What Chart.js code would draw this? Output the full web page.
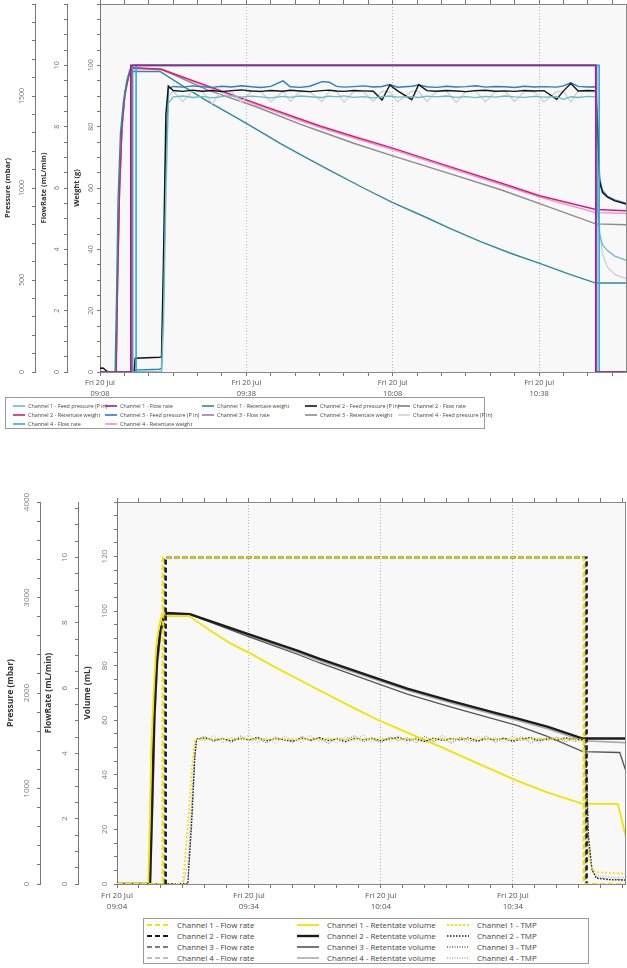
<!DOCTYPE html>
<html>
<head>
<meta charset="utf-8">
<script src="https://cdn.jsdelivr.net/npm/chart.js@4.4.1/dist/chart.umd.min.js"></script>
<style>
  body { margin: 0; background: #fff; width: 627px; height: 968px; overflow: hidden; position: relative; font-family: 'Open Sans', sans-serif; }
  canvas { position: absolute; left: 0; display: block; }
  #c1 { top: 0; }
  #c2 { top: 470px; }
  .legend { position: absolute; box-sizing: border-box; border: 1px solid #9a9a9a; background: #fff; display: grid; color: #444; white-space: nowrap; }
  .legend div { display: flex; align-items: center; }
  .legend svg { flex: none; }
  #leg1 { left: 5px; top: 397px; width: 480px; height: 32px; padding: 3px 0 0 7px; font-size: 5.4px; grid-auto-rows: 9px; }
  #leg1 svg { margin-right: 3px; }
  #leg2 { left: 143px; top: 918px; width: 446px; height: 46px; padding: 0.5px 0 0 3px; font-size: 7.9px; grid-auto-rows: 11px; }
  #leg2 svg { margin-right: 8px; }
</style>
</head>
<body>
<canvas id="c1" width="627" height="398"></canvas>
<div id="leg1" class="legend"></div>
<canvas id="c2" width="627" height="440"></canvas>
<div id="leg2" class="legend"></div>
<script>
// time values are minutes after 09:00 on Fri 20 Jul
const dateLabel = 'Fri 20 Jul';

// ---- top chart: weight run ----
const feedTime = [8, 8.6, 9.4, 10, 15.0, 15.2, 20.2, 20.6, 21.0, 21.5, 22.0, 23, 25, 27, 29, 31, 33, 35, 37, 39, 41, 43,
  45.5, 47, 49, 51, 53.5, 55, 56.5, 58, 60, 62, 64, 65.8, 67.4, 69, 71.9, 73.3, 75, 77, 79, 81, 83, 85, 87, 89, 91, 93, 95, 97, 99,
  101.6, 103, 104.5, 106, 108, 109.6, 110.0, 110.4, 111, 112, 113.5, 116];
const feedP1 = [0, 0, 0, 0, 0, 0, 0, 0, 300, 1000, 1460,
  1495, 1500, 1492, 1498, 1490, 1497, 1502, 1494, 1499, 1495, 1490,
  1498, 1493, 1500, 1496, 1492, 1499, 1495, 1501, 1493, 1497, 1490,
  1496, 1500, 1494, 1497, 1492, 1499, 1495, 1500, 1493, 1497, 1491,
  1498, 1494, 1500, 1495, 1492, 1498, 1494, 1497, 1482, 1496, 1492, 1498,
  1495, 900, 750, 690, 660, 630, 605];
const feedP2 = [20, 22, 5, 0, 0, 75, 80, 82, 600, 1400, 1555,
  1530, 1525, 1532, 1526, 1530, 1524, 1529, 1533, 1527, 1525, 1530,
  1526, 1531, 1527, 1524, 1529, 1532, 1527, 1525, 1530, 1528, 1526,
  1478, 1560, 1528, 1480, 1562, 1529, 1526, 1530, 1527, 1524, 1529,
  1531, 1526, 1528, 1525, 1530, 1527, 1529, 1482, 1528, 1568, 1527, 1530,
  1528, 1300, 1030, 975, 950, 930, 912];
const feedP3 = [0, 0, 0, 0, 0, 10, 15, 20, 400, 1200, 1540,
  1552, 1548, 1555, 1550, 1547, 1553, 1549, 1556, 1550, 1546, 1552,
  1582, 1550, 1547, 1553, 1578, 1575, 1552, 1548, 1551, 1555, 1549,
  1552, 1562, 1548, 1553, 1560, 1550, 1547, 1553, 1549, 1551, 1556,
  1548, 1552, 1550, 1546, 1553, 1549, 1551, 1548, 1555, 1572, 1552, 1549,
  1550, 1350, 1050, 985, 955, 935, 915];
const feedP4 = [0, 0, 0, 0, 0, 0, 0, 0, 200, 900, 1500,
  1525, 1470, 1528, 1522, 1460, 1526, 1524, 1465, 1527, 1523, 1468,
  1526, 1470, 1525, 1522, 1470, 1527, 1524, 1466, 1526, 1523, 1470,
  1525, 1522, 1468, 1526, 1524, 1470, 1525, 1527, 1465, 1524, 1526,
  1468, 1524, 1526, 1470, 1525, 1523, 1468, 1525, 1524, 1470, 1526, 1524,
  1520, 1000, 760, 640, 570, 530, 505];

const flowSteps = [0, 0, 10, 10, 0, 0];
const flowT1 = [8, 14.3, 14.3, 109.6, 109.6, 116];
const flowT2 = [8, 14.5, 14.5, 109.7, 109.7, 116];
const flowT3 = [8, 14.7, 14.7, 109.8, 109.8, 116];
const flowT4 = [8, 15.4, 15.4, 110.3, 110.3, 116];

const weightT1 = [8, 11.1, 11.4, 11.7, 12.2, 12.8, 13.5, 14.1, 14.8, 20.3, 25, 30, 38.1, 45, 49, 55, 62, 68, 75, 79.7, 86, 92, 98.1, 104, 109.6, 116];
const weightV1 = [0, 0, 25, 56, 78, 88, 95, 98.5, 98, 98, 93.2, 88.3, 81, 74.5, 71, 65.8, 60, 55.2, 50.3, 46.8, 42.5, 38.8, 35.4, 32, 29, 29];
const weightT = [8, 11.3, 11.6, 12, 12.5, 13.1, 13.8, 14.5, 20.6, 30, 40, 49, 53.1, 60, 68, 80, 90, 98.1, 109.6, 116];
const weightV2 = [0, 0, 30, 60, 80, 91, 96, 99.3, 98.7, 93.3, 87.6, 82.5, 80.2, 76.8, 73, 66.8, 61.7, 57.5, 53, 52.6];
const weightV3 = [0, 0, 29, 59, 80, 90, 96, 99, 98.7, 92, 86.5, 80.8, 78.5, 74.6, 70.5, 64.5, 59.5, 54.9, 48.3, 48];
const weightV4 = [0, 0, 28, 58, 79, 90, 96, 99, 98.5, 93, 87.2, 82, 79.8, 76.3, 72.5, 66.3, 61.2, 57, 52, 51.7];

// ---- bottom chart: volume run ----
const bFlowT1 = [4, 14.4, 14.4, 110.1, 110.1, 119.9];
const bFlowT2 = [4, 15.1, 15.1, 110.8, 110.8, 119.9];
const bFlowT3 = [4, 14.9, 14.9, 110.6, 110.6, 119.9];
const bFlowT4 = [4, 14.7, 14.7, 110.4, 110.4, 119.9];

const volT1 = [4, 11.1, 11.5, 11.8, 12.4, 12.9, 13.5, 14.1, 14.5, 15.0, 20.4, 25, 30, 34.2, 40, 45, 50, 57, 63.1, 70, 78, 86, 94.9, 102, 109.9, 117.9, 119.9];
const volV1 = [0, 0, 25, 50, 72, 87, 94, 98, 99.5, 98.2, 98.2, 93.1, 88, 84.6, 79.4, 75.2, 71, 65.2, 60.3, 55.5, 50, 44.2, 37.9, 33.5, 29.4, 29.4, 15.8];
const volT2 = [4, 11.5, 12.0, 12.5, 13.1, 13.8, 14.6, 15.3, 20.6, 34.2, 45, 50.1, 63.1, 70, 80, 90, 94.9, 102, 109.9, 119.9];
const volV2 = [0, 0, 30, 62, 82, 92, 97.5, 99.3, 98.9, 91.4, 85.5, 82.5, 75.4, 71.6, 67, 62.7, 60.7, 57.6, 53.3, 53.3];
const volT3 = [4, 11.4, 11.9, 12.4, 13.0, 13.7, 14.5, 15.2, 20.6, 34.2, 45, 50.1, 63.1, 70, 80, 90, 94.9, 102, 109.9, 118.3, 119.9];
const volV3 = [0, 0, 30, 62, 82, 92, 97.5, 99.2, 98.8, 90.5, 84.2, 81, 73.5, 69.6, 64.8, 60.3, 58.1, 54, 48.5, 48.2, 40.4];
const volT4 = [4, 11.6, 12.1, 12.6, 13.2, 13.9, 14.7, 15.4, 20.6, 34.2, 45, 50.1, 63.1, 70, 80, 90, 94.9, 102, 109.9, 119.9];
const volV4 = [0, 0, 28, 60, 80, 91, 97, 99, 98.7, 90.8, 84.8, 81.8, 74.8, 71, 66.3, 62, 60, 56.8, 52.5, 51.8];

const tmpTime = [4, 19.0, 20.1, 21.0, 21.7, 22.1,
  24, 26, 28, 30, 32, 34, 36, 38, 40, 42, 44, 46, 48, 50, 52, 54, 56, 58, 60, 62,
  64, 66, 68, 70, 72, 74, 76, 78, 80, 82, 84, 86, 88, 90, 92, 94, 96, 98, 100, 102, 104, 106, 108,
  110.1, 110.6, 111.2, 112, 113, 116, 119.9];
const tmp1 = [0, 0, 600, 1200, 1516, 1512,
  1518, 1514, 1517, 1515, 1519, 1513, 1516, 1518, 1514, 1517,
  1515, 1516, 1519, 1514, 1516, 1518, 1513, 1517, 1515, 1516,
  1518, 1514, 1517, 1516, 1515, 1518, 1513, 1516, 1517, 1515,
  1519, 1514, 1516, 1518, 1515, 1517, 1514, 1516, 1518, 1515,
  1517, 1514, 1516,
  1512, 700, 300, 160, 125, 115, 110];
const tmp2 = [0, 0, 0, 700, 1350, 1516,
  1530, 1505, 1522, 1498, 1526, 1510, 1535, 1500, 1520, 1512,
  1495, 1528, 1508, 1532, 1502, 1519, 1490, 1525, 1511, 1527,
  1499, 1521, 1534, 1506, 1517, 1492, 1528, 1503, 1523, 1510,
  1531, 1497, 1520, 1509, 1526, 1494, 1518, 1533, 1501, 1522,
  1507, 1529, 1512,
  1515, 1400, 500, 150, 60, 45, 40];
const tmp3 = [0, 0, 0, 600, 1300, 1510,
  1545, 1490, 1530, 1480, 1550, 1500, 1525, 1475, 1540, 1505,
  1485, 1548, 1495, 1535, 1470, 1528, 1510, 1552, 1488, 1520,
  1478, 1542, 1502, 1533, 1482, 1546, 1497, 1526, 1473, 1538,
  1508, 1490, 1549, 1483, 1530, 1499, 1544, 1476, 1523, 1505,
  1540, 1487, 1530,
  1500, 1300, 450, 140, 70, 50, 45];
const tmp4 = [0, 0, 200, 900, 1450, 1520,
  1500, 1552, 1478, 1535, 1505, 1560, 1483, 1527, 1470, 1548,
  1510, 1485, 1555, 1492, 1530, 1475, 1545, 1503, 1565, 1480,
  1532, 1496, 1550, 1472, 1540, 1508, 1486, 1558, 1490, 1525,
  1478, 1547, 1505, 1535, 1482, 1553, 1497, 1530, 1471, 1544,
  1502, 1537, 1488,
  1505, 900, 350, 150, 90, 70, 65];

function pts(t, v) { return t.map((x, i) => ({ x: x, y: v[i] })); }
function hhmm(v) {
  const h = 9 + Math.floor(v / 60), m = Math.round(v % 60);
  return String(h).padStart(2, '0') + ':' + String(m).padStart(2, '0');
}

const topSeries = [
  { label: 'Channel 1 - Feed pressure (P in)', t: feedTime, v: feedP1, axis: 'yp', color: '#62c0c6', w: 1.3, order: 2 },
  { label: 'Channel 1 - Flow rate', t: flowT1, v: flowSteps, axis: 'yf', color: '#8e2a8e', w: 1.6, order: 1 },
  { label: 'Channel 1 - Retentate weight', t: weightT1, v: weightV1, axis: 'yw', color: '#2c8b9b', w: 1.4, order: 3 },
  { label: 'Channel 2 - Feed pressure (P in)', t: feedTime, v: feedP2, axis: 'yp', color: '#141414', w: 1.4, order: 2 },
  { label: 'Channel 2 - Flow rate', t: flowT2, v: flowSteps, axis: 'yf', color: '#808080', w: 1.3, order: 1 },
  { label: 'Channel 2 - Retentate weight', t: weightT, v: weightV2, axis: 'yw', color: '#d81b7e', w: 1.5, order: 3 },
  { label: 'Channel 3 - Feed pressure (P in)', t: feedTime, v: feedP3, axis: 'yp', color: '#2e7ac4', w: 1.4, order: 2 },
  { label: 'Channel 3 - Flow rate', t: flowT3, v: flowSteps, axis: 'yf', color: '#8a7cc4', w: 1.5, order: 1 },
  { label: 'Channel 3 - Retentate weight', t: weightT, v: weightV3, axis: 'yw', color: '#8c8c8c', w: 1.4, order: 3 },
  { label: 'Channel 4 - Feed pressure (P in)', t: feedTime, v: feedP4, axis: 'yp', color: '#d0d0d0', w: 1.3, order: 2 },
  { label: 'Channel 4 - Flow rate', t: flowT4, v: flowSteps, axis: 'yf', color: '#2ea8e6', w: 1.6, order: 1 },
  { label: 'Channel 4 - Retentate weight', t: weightT, v: weightV4, axis: 'yw', color: '#ec90c3', w: 1.3, order: 3 }
];

const yellow = '#f3e300';
const botSeries = [
  { label: 'Channel 1 - Flow rate', t: bFlowT1, v: flowSteps, axis: 'yf', color: yellow, w: 2.2, dash: [5, 3], order: 1 },
  { label: 'Channel 1 - Retentate volume', t: volT1, v: volV1, axis: 'yv', color: yellow, w: 1.8, order: 3 },
  { label: 'Channel 1 - TMP', t: tmpTime, v: tmp1, axis: 'yp', color: yellow, w: 1.8, dash: [2, 2], order: 2 },
  { label: 'Channel 2 - Flow rate', t: bFlowT2, v: flowSteps, axis: 'yf', color: '#1c1c1c', w: 2.2, dash: [5, 3], order: 1 },
  { label: 'Channel 2 - Retentate volume', t: volT2, v: volV2, axis: 'yv', color: '#1c1c1c', w: 2.4, order: 3 },
  { label: 'Channel 2 - TMP', t: tmpTime, v: tmp2, axis: 'yp', color: '#1c1c1c', w: 1.3, dash: [1.5, 1.5], order: 2 },
  { label: 'Channel 3 - Flow rate', t: bFlowT3, v: flowSteps, axis: 'yf', color: '#555555', w: 1.3, dash: [5, 3], order: 1 },
  { label: 'Channel 3 - Retentate volume', t: volT3, v: volV3, axis: 'yv', color: '#555555', w: 1.3, order: 3 },
  { label: 'Channel 3 - TMP', t: tmpTime, v: tmp3, axis: 'yp', color: '#666666', w: 1, dash: [1, 1.5], order: 2 },
  { label: 'Channel 4 - Flow rate', t: bFlowT4, v: flowSteps, axis: 'yf', color: '#aaaaaa', w: 1.3, dash: [5, 3], order: 1 },
  { label: 'Channel 4 - Retentate volume', t: volT4, v: volV4, axis: 'yv', color: '#aaaaaa', w: 1.6, order: 3 },
  { label: 'Channel 4 - TMP', t: tmpTime, v: tmp4, axis: 'yp', color: '#aaaaaa', w: 1, dash: [1, 1.5], order: 2 }
];

function toDatasets(series) {
  return series.map(s => ({
    label: s.label,
    data: pts(s.t, s.v),
    yAxisID: s.axis,
    borderColor: s.color,
    borderWidth: s.w,
    borderDash: s.dash || [],
    pointRadius: 0,
    fill: false,
    tension: 0,
    order: s.order
  }));
}

function yAxis(min, max, step, weight, width) {
  return {
    type: 'linear', position: 'left', weight: weight, min: min, max: max,
    afterBuildTicks: s => {
      const a = [];
      for (let i = 0; min + i * step <= max + 1e-9; i++) a.push({ value: +(min + i * step).toFixed(3) });
      s.ticks = a;
    },
    afterFit: s => { s.width = width; },
    ticks: { display: false },
    grid: { drawOnChartArea: false, tickLength: 3, tickColor: '#777' },
    border: { color: '#777' }
  };
}

function xAxis(min, max, pos, fontSize) {
  return {
    type: 'linear', position: pos, min: min, max: max,
    afterBuildTicks: s => {
      const a = [];
      for (let v = min; v <= max; v += 5) a.push({ value: v });
      s.ticks = a;
    },
    afterFit: s => { s.height = pos === 'bottom' ? 26 : 4; },
    ticks: {
      display: pos === 'bottom', autoSkip: false, maxRotation: 0, minRotation: 0, padding: 2,
      color: '#555', font: { size: fontSize, family: 'Open Sans', lineHeight: 1.4 },
      callback: v => ((v - min) % 30 === 0 ? [dateLabel, hhmm(v)] : '')
    },
    grid: {
      drawOnChartArea: pos === 'bottom',
      color: c => (c.tick && (c.tick.value - min) % 30 === 0 ? '#b4b4b4' : 'rgba(0,0,0,0)'),
      tickLength: 4, tickColor: '#777'
    },
    border: { color: '#888', dash: [1, 2] }
  };
}

function rightAxis() {
  return {
    type: 'linear', position: 'right', min: 0, max: 1,
    afterFit: s => { s.width = 0; },
    ticks: { display: false },
    grid: { display: false, drawTicks: false },
    border: { color: '#888' }
  };
}

// rotated tick labels, axis titles and plot background
function axisText(cfg) {
  return {
    id: 'axisText',
    beforeDraw(chart) {
      const a = chart.chartArea, ctx = chart.ctx;
      ctx.save();
      ctx.fillStyle = '#f8f8f8';
      ctx.fillRect(a.left, a.top, a.right - a.left, a.bottom - a.top);
      ctx.restore();
    },
    afterDraw(chart) {
      const ctx = chart.ctx, a = chart.chartArea;
      const mid = (a.top + a.bottom) / 2;
      cfg.axes.forEach(ax => {
        const s = chart.scales[ax.id];
        ctx.save();
        ctx.textAlign = 'center';
        ctx.textBaseline = 'middle';
        ctx.fillStyle = '#777';
        ctx.font = cfg.tickFont;
        s.ticks.forEach(t => {
          const v = t.value;
          if (v > ax.last + 1e-9) return;
          if (Math.abs(v / ax.major - Math.round(v / ax.major)) > 1e-6) return;
          const y = s.getPixelForValue(v);
          ctx.save();
          ctx.translate(s.right - ax.off, y);
          ctx.rotate(-Math.PI / 2);
          ctx.fillText(String(v), 0, 0);
          ctx.restore();
        });
        ctx.fillStyle = '#333';
        ctx.font = cfg.titleFont;
        ctx.translate(ax.titleX, mid);
        ctx.rotate(-Math.PI / 2);
        ctx.fillText(ax.title, 0, 0);
        ctx.restore();
      });
    }
  };
}

function buildLegend(el, series, cols, sw) {
  el.style.gridTemplateColumns = cols.map(c => c + 'px').join(' ');
  series.forEach(s => {
    const d = document.createElement('div');
    const dash = s.dash ? s.dash.join(' ') : 'none';
    const lw = Math.max(s.w, 1.6);
    d.innerHTML = '<svg width="' + sw + '" height="6"><line x1="0" y1="3" x2="' + sw + '" y2="3" stroke="' + s.color +
      '" stroke-width="' + lw + '" stroke-dasharray="' + dash + '"/></svg><span>' + s.label + '</span>';
    el.appendChild(d);
  });
}

const commonOpts = {
  responsive: false,
  animation: false,
  events: [],
  plugins: { legend: { display: false }, tooltip: { enabled: false } }
};

new Chart(document.getElementById('c1'), {
  type: 'line',
  data: { datasets: toDatasets(topSeries) },
  options: Object.assign({}, commonOpts, {
    layout: { padding: { left: 2, right: 1, top: 0, bottom: 0 } },
    scales: {
      x: xAxis(8, 115.8, 'bottom', 7.5),
      x2: xAxis(8, 115.8, 'top', 7.5),
      yw: yAxis(0, 120, 5, 0, 33),
      yf: yAxis(0, 12, 0.5, 1, 32),
      yp: yAxis(0, 2000, 100, 2, 33),
      yr: rightAxis()
    }
  }),
  plugins: [axisText({
    tickFont: '7px "Open Sans"',
    titleFont: 'bold 7.5px "Open Sans"',
    axes: [
      { id: 'yp', major: 500, last: 1500, off: 13, title: 'Pressure (mbar)', titleX: 8 },
      { id: 'yf', major: 2, last: 10, off: 10, title: 'FlowRate (mL/min)', titleX: 44 },
      { id: 'yw', major: 20, last: 100, off: 9, title: 'Weight (g)', titleX: 77 }
    ]
  })]
});

new Chart(document.getElementById('c2'), {
  type: 'line',
  data: { datasets: toDatasets(botSeries) },
  options: Object.assign({}, commonOpts, {
    layout: { padding: { left: 2, right: 2, top: 28, bottom: 0 } },
    scales: {
      x: xAxis(4, 119.5, 'bottom', 8),
      x2: xAxis(4, 119.5, 'top', 8),
      yv: yAxis(0, 140, 5, 0, 39),
      yf: yAxis(0, 11.7, 0.5, 1, 38),
      yp: yAxis(0, 4000, 200, 2, 38),
      yr: rightAxis()
    }
  }),
  plugins: [axisText({
    tickFont: '8px "Open Sans"',
    titleFont: 'bold 8.5px "Open Sans"',
    axes: [
      { id: 'yp', major: 1000, last: 4000, off: 13, title: 'Pressure (mbar)', titleX: 11 },
      { id: 'yf', major: 2, last: 10, off: 13, title: 'FlowRate (mL/min)', titleX: 49 },
      { id: 'yv', major: 20, last: 120, off: 12, title: 'Volume (mL)', titleX: 88 }
    ]
  })]
});

buildLegend(document.getElementById('leg1'), topSeries, [92, 97, 103, 93, 90], 12);
buildLegend(document.getElementById('leg2'), botSeries, [150, 150, 140], 22);
</script>
</body>
</html>
